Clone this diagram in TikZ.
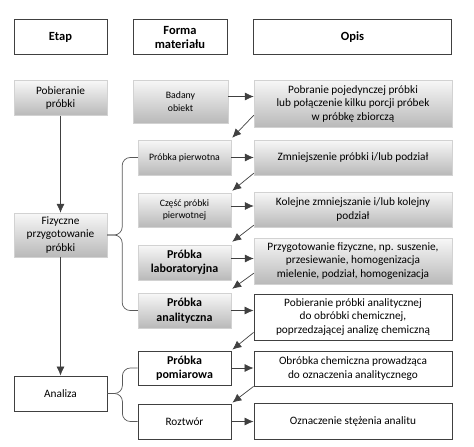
\documentclass[tikz,border=0pt]{standalone}
\usepackage{fontspec}
\setmainfont{Carlito}
\usepackage{tikz}
\usetikzlibrary{arrows.meta,positioning}

\begin{document}
\begin{tikzpicture}[
      x=1pt, y=-1pt,
      font=\fontsize{11.3}{13.5}\selectfont,
      box/.style={align=center, inner sep=2pt, minimum width=93pt, minimum height=35pt},
      hdr/.style={box, draw=black!75, line width=0.8pt, font=\fontsize{12.5}{14}\selectfont\bfseries},
      gbox/.style={box, draw=gray!35, top color=gray!6, bottom color=gray!55},
      wbox/.style={box, draw=black!75, line width=0.8pt, fill=white},
      wide/.style={minimum width=198pt},
      sm/.style={font=\fontsize{9.8}{12.5}\selectfont},
      bf/.style={font=\fontsize{12}{14.5}\selectfont\bfseries},
      ar/.style={-{Latex[length=9pt,width=8pt]}, draw=black!75, line width=0.7pt},
      brace/.style={draw=black!65, line width=0.7pt, rounded corners=8pt}]
    \useasboundingbox (0,0) rectangle (474,447);
    % headers
    \node[hdr]        (etap)  at (60.5,37)  {Etap};
    \node[hdr, minimum width=94pt] (forma) at (180,37) {Forma\\materiału};
    \node[hdr, wide]  (opis)  at (352.5,37) {Opis};
    % stages
    \node[gbox]                    (pob)     at (60.5,98)    {Pobieranie\\próbki};
    \node[gbox, minimum height=44pt] (fiz)   at (60.5,235)   {Fizyczne\\przygotowanie\\próbki};
    \node[wbox]                    (analiza) at (60.5,393.5) {Analiza};
    % material forms
    \node[gbox, sm, minimum width=95pt, minimum height=43pt] (badany) at (180.5,101.5) {Badany\\obiekt};
    \node[gbox, sm]                (pierw)   at (184.5,157.5) {Próbka pierwotna};
    \node[gbox, sm, minimum height=34pt] (czesc) at (184.5,210) {Część próbki\\pierwotnej};
    \node[gbox, bf]                (lab)     at (184.5,262.5) {Próbka\\laboratoryjna};
    \node[gbox, bf]                (anal)    at (184.5,310.5) {Próbka\\analityczna};
    \node[wbox, bf, minimum height=34pt] (pomiar) at (184.5,368) {Próbka\\pomiarowa};
    \node[wbox]                    (roztwor) at (184.5,421.5) {Roztwór};
    % descriptions
    \node[gbox, wide, minimum height=47pt] (pobranie) at (353,103.5) {Pobranie pojedynczej próbki\\lub połączenie kilku porcji próbek\\w próbkę zbiorczą};
    \node[gbox, wide]              (zmn)     at (353,157.5) {Zmniejszenie próbki i/lub podział};
    \node[gbox, wide]              (kolejne) at (353,209.5) {Kolejne zmniejszanie i/lub kolejny\\podział};
    \node[gbox, wide, minimum height=46pt] (przyg) at (353,261) {Przygotowanie fizyczne, np. suszenie,\\przesiewanie, homogenizacja\\mielenie, podział, homogenizacja};
    \node[wbox, wide, minimum height=46pt] (pobAn) at (353,317) {Pobieranie próbki analitycznej\\do obróbki chemicznej,\\poprzedzającej analizę chemiczną};
    \node[wbox, wide]              (obrobka) at (353,368.5) {Obróbka chemiczna prowadząca\\do oznaczenia analitycznego};
    \node[wbox, wide, minimum height=36pt] (oznacz) at (353,421) {Oznaczenie stężenia analitu};
    % stage flow
    \draw[ar] (pob) -- (fiz);
    \draw[ar] (fiz) -- (analiza);
    \draw[brace] (fiz.east) -- ++(15,0) |- (pierw.west);
    \draw[brace] (fiz.east) -- ++(15,0) |- (anal.west);
    \draw[brace] (analiza.east) -- ++(15,0) |- (pomiar.west);
    \draw[brace] (analiza.east) -- ++(15,0) |- (roztwor.west);
    % form -> description
    \draw[ar] ([yshift=5pt]badany.east) -- ([yshift=5pt]badany.east -| pobranie.west);
    \draw[ar] (pierw.east)   -- (pierw.east -| zmn.west);
    \draw[ar] ([yshift=4pt]czesc.east) -- ([yshift=4pt]czesc.east -| kolejne.west);
    \draw[ar] ([yshift=4pt]lab.east) -- ([yshift=4pt]lab.east -| przyg.west);
    \draw[ar] (anal.east)    -- (anal.east -| pobAn.west);
    \draw[ar] (pomiar.east)  -- (pomiar.east -| obrobka.west);
    \draw[ar] (roztwor.east) -- (roztwor.east -| oznacz.west);
    % description -> next form
    \draw[ar] ([yshift=12pt]pobranie.south west) -- ([shift={(1pt,2pt)}]pierw.north east);
    \draw[ar] ([yshift=2pt]zmn.south west)       -- ([shift={(1pt,2pt)}]czesc.north east);
    \draw[ar] ([yshift=2pt]kolejne.south west)   -- ([shift={(1pt,3pt)}]lab.north east);
    \draw[ar] ([yshift=11pt]przyg.south west)    -- ([shift={(1pt,4pt)}]anal.north east);
    \draw[ar] ([yshift=8pt]pobAn.south west)     -- ([shift={(1pt,1pt)}]pomiar.north east);
    \draw[ar] ([yshift=0pt]obrobka.south west)   -- ([shift={(1pt,1pt)}]roztwor.north east);
  \end{tikzpicture}
\end{document}
